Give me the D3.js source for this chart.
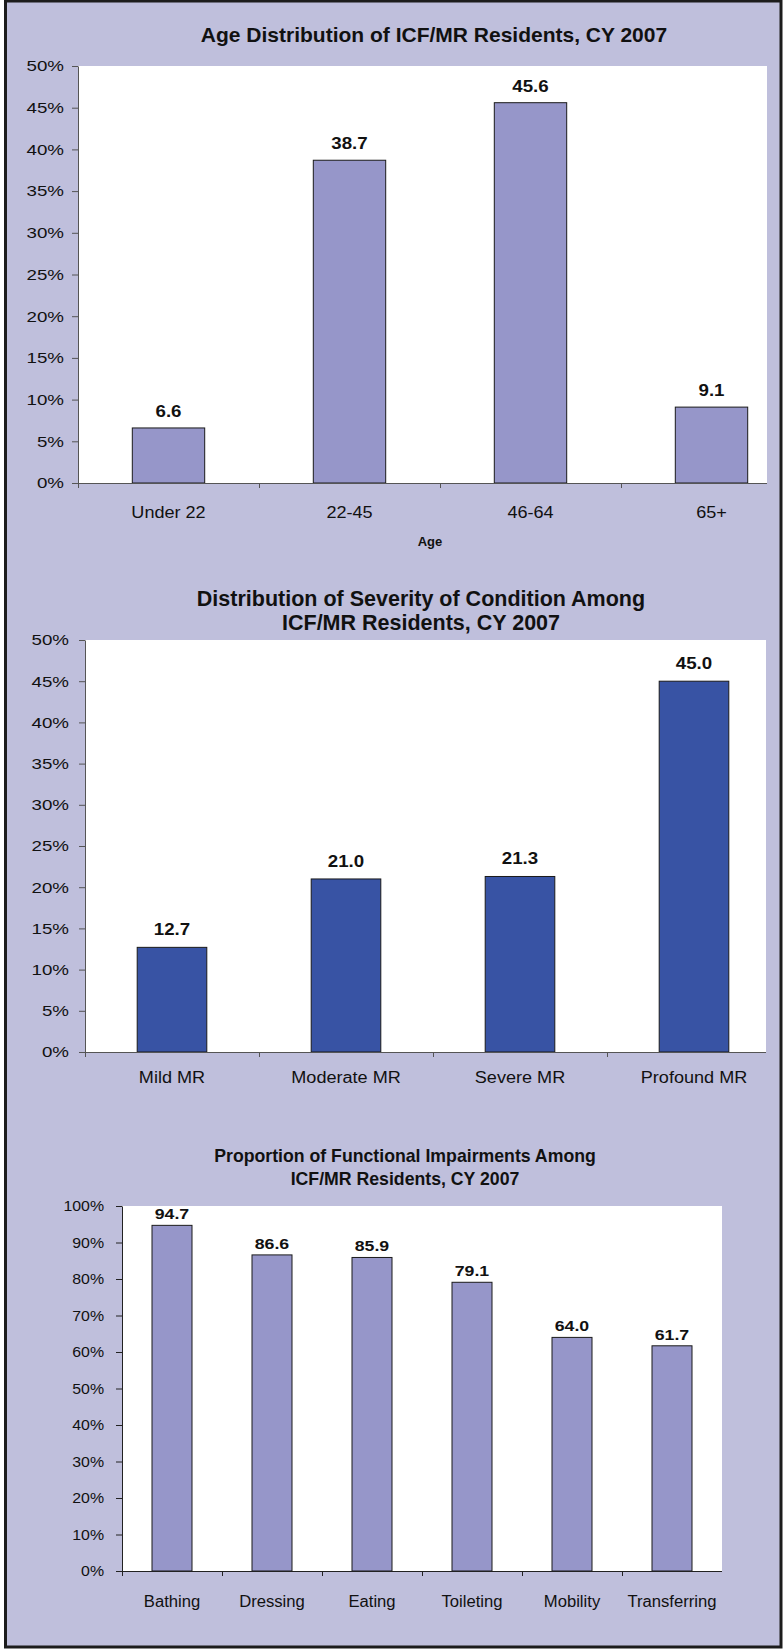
<!DOCTYPE html>
<html>
<head>
<meta charset="utf-8">
<script src="https://cdn.jsdelivr.net/npm/d3@7/dist/d3.min.js"></script>
<style>
    body { margin: 0; background: #fff; }
    text { font-family: "Liberation Sans", Arial, sans-serif; fill: #111; }
</style>
</head>
<body>
<div class="chart__container"></div>
<script>
/*-------------------------------------DATA-------------------------------------*/

const AGE__CATS = ["Under 22", "22-45", "46-64", "65+"];
const AGE__VALUES = [6.6, 38.7, 45.6, 9.1];
const AGE__TICKS = [0, 5, 10, 15, 20, 25, 30, 35, 40, 45, 50];

const SEV__CATS = ["Mild MR", "Moderate MR", "Severe MR", "Profound MR"];
const SEV__VALUES = [12.7, 21.0, 21.3, 45.0];
const SEV__TICKS = [0, 5, 10, 15, 20, 25, 30, 35, 40, 45, 50];

const FUNC__CATS = ["Bathing", "Dressing", "Eating", "Toileting", "Mobility", "Transferring"];
const FUNC__VALUES = [94.7, 86.6, 85.9, 79.1, 64.0, 61.7];
const FUNC__TICKS = [0, 10, 20, 30, 40, 50, 60, 70, 80, 90, 100];

/*-------------------------------------INIT-------------------------------------*/

const WIDTH = 784;
const HEIGHT = 1649;
const BG = "#bfbfdc";

const SVG = d3.select(".chart__container").append("svg")
    .attr("width", WIDTH)
    .attr("height", HEIGHT);

// frame
SVG.append("rect")
    .attr("x", 5.5).attr("y", 1)
    .attr("width", 775.5).attr("height", 1646)
    .attr("fill", BG)
    .attr("stroke", "#1c1c1c")
    .attr("stroke-width", 3);

// the original text is a bit wider than Arial, so stretch it sideways
const stretch = (sel, sx) => {
    sel.each(function () {
        const t = d3.select(this);
        const x = +t.attr("x") || 0;
        t.attr("x", x / sx).attr("transform", `scale(${sx},1)`);
    });
}

/*-------------------------------------Graph-------------------------------------*/

const drawChart = (c) => {

    const g = SVG.append("g");

    const x = d3.scaleBand()
        .domain(c.cats)
        .range([c.left, c.right])
        .paddingInner(0.6)
        .paddingOuter(0.3);

    const y = d3.scaleLinear()
        .domain([0, c.max])
        .range([c.bottom, c.top]);

    // clip on the right like the original
    g.append("clipPath").attr("id", c.id)
        .append("rect")
        .attr("x", 0).attr("y", c.top - 10)
        .attr("width", c.clip).attr("height", c.bottom - c.top + 60);

    const plot = g.append("g").attr("clip-path", `url(#${c.id})`);

    plot.append("rect")
        .attr("x", c.left).attr("y", c.top)
        .attr("width", c.right - c.left).attr("height", c.bottom - c.top)
        .attr("fill", "#fff");

    plot.selectAll(".bar")
        .data(c.values)
        .join("rect")
        .attr("x", (d, i) => x(c.cats[i]))
        .attr("y", d => y(d))
        .attr("width", x.bandwidth())
        .attr("height", d => y(0) - y(d))
        .attr("fill", c.color)
        .attr("stroke", "#1a1a1a")
        .attr("stroke-width", 1);

    const vals = plot.selectAll(".val")
        .data(c.values)
        .join("text")
        .attr("x", (d, i) => x(c.cats[i]) + x.bandwidth() / 2)
        .attr("y", d => y(d) - c.valGap)
        .attr("text-anchor", "middle")
        .attr("font-weight", "bold")
        .attr("font-size", c.valSize)
        .text(d => d.toFixed(1));
    stretch(vals, c.valSx);

    // x axis with ticks on the category borders
    const edges = d3.scaleLinear().domain([0, c.cats.length]).range([c.left, c.right]);
    const xAxis = plot.append("g")
        .attr("transform", `translate(0,${c.bottom})`)
        .call(d3.axisBottom(edges).ticks(c.cats.length).tickFormat("").tickSize(5).tickSizeOuter(0));
    xAxis.selectAll("path, line").attr("stroke", c.axisColor);

    const labels = g.append("g")
        .attr("transform", `translate(0,${c.bottom})`)
        .call(d3.axisBottom(x).tickSize(0).tickPadding(c.catPad));
    labels.select(".domain").remove();
    labels.selectAll("text")
        .attr("font-size", c.catSize)
        .attr("font-family", null)
        .attr("fill", "#111");
    stretch(labels.selectAll("text"), c.catSx);

    // y axis
    const yAxis = g.append("g")
        .attr("transform", `translate(${c.left},0)`)
        .call(d3.axisLeft(y).tickValues(c.ticks).tickFormat(d => d + "%").tickSize(6).tickSizeOuter(0).tickPadding(c.yPad));
    yAxis.selectAll("path, line").attr("stroke", c.axisColor);
    yAxis.selectAll("text")
        .attr("font-size", c.tickSize)
        .attr("font-family", null)
        .attr("fill", "#111");
    stretch(yAxis.selectAll("text"), c.tickSx);

    // title
    const title = g.append("text")
        .attr("x", c.titleX)
        .attr("text-anchor", "middle")
        .attr("font-weight", "bold")
        .attr("font-size", c.titleSize);

    c.title.forEach((line, i) => {
        title.append("tspan")
            .attr("x", c.titleX)
            .attr("y", c.titleY + i * c.titleStep)
            .text(line);
    });

    if (c.xTitle) {
        g.append("text")
            .attr("x", c.xTitleX)
            .attr("y", c.xTitleY)
            .attr("text-anchor", "middle")
            .attr("font-weight", "bold")
            .attr("font-size", 13)
            .text(c.xTitle);
    }
}

drawChart({
    id: "clip-age",
    cats: AGE__CATS, values: AGE__VALUES, ticks: AGE__TICKS, max: 50,
    left: 78, right: 802, clip: 767, top: 66, bottom: 483,
    color: "#9696c9", axisColor: "#555",
    title: ["Age Distribution of ICF/MR Residents, CY 2007"],
    titleX: 434, titleY: 42, titleStep: 24, titleSize: 21,
    xTitle: "Age", xTitleX: 430, xTitleY: 546,
    valSize: 17, valSx: 1.1, valGap: 11,
    catSize: 16, catSx: 1.13, catPad: 24,
    tickSize: 15, tickSx: 1.25, yPad: 8
});

drawChart({
    id: "clip-sev",
    cats: SEV__CATS, values: SEV__VALUES, ticks: SEV__TICKS, max: 50,
    left: 85, right: 781, clip: 766, top: 640, bottom: 1052,
    color: "#3853a4", axisColor: "#555",
    title: ["Distribution of Severity of Condition Among", "ICF/MR Residents, CY 2007"],
    titleX: 421, titleY: 606, titleStep: 24, titleSize: 21.5,
    valSize: 17, valSx: 1.1, valGap: 12,
    catSize: 16, catSx: 1.13, catPad: 20,
    tickSize: 15, tickSx: 1.25, yPad: 10
});

drawChart({
    id: "clip-func",
    cats: FUNC__CATS, values: FUNC__VALUES, ticks: FUNC__TICKS, max: 100,
    left: 122, right: 722, clip: 722, top: 1206, bottom: 1571,
    color: "#9696c9", axisColor: "#222",
    title: ["Proportion of Functional Impairments Among", "ICF/MR Residents, CY 2007"],
    titleX: 405, titleY: 1162, titleStep: 23, titleSize: 17.7,
    valSize: 15, valSx: 1.18, valGap: 6,
    catSize: 16, catSx: 1.04, catPad: 25,
    tickSize: 15, tickSx: 1.06, yPad: 12
});
</script>
</body>
</html>
